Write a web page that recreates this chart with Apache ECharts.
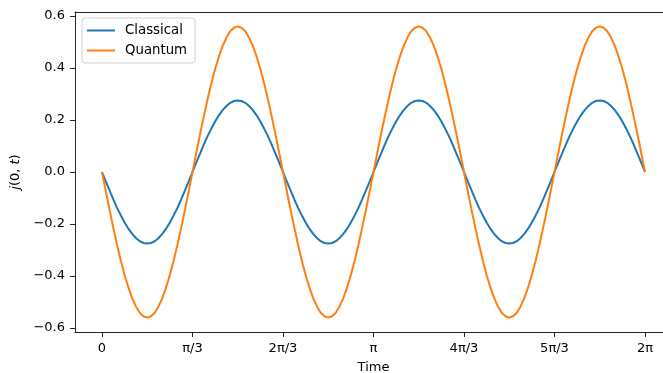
<!DOCTYPE html>
<html>
<head>
<meta charset="utf-8">
<script src="https://cdn.jsdelivr.net/npm/echarts@6/dist/echarts.min.js"></script>
<style>html,body{margin:0;padding:0;background:#fff}#c{width:663px;height:373px}</style>
</head>
<body>
<div id="c"></div>
<script>
// sample index k -> time t = k*pi/72
const stepCount = 144;
const classical = [
 0,-0.036,-0.071,-0.105,-0.138,-0.167,-0.194,-0.218,-0.238,-0.254,-0.266,-0.273,
 -0.275,-0.273,-0.266,-0.254,-0.238,-0.218,-0.194,-0.167,-0.138,-0.105,-0.071,-0.036,
 0,0.036,0.071,0.105,0.138,0.167,0.194,0.218,0.238,0.254,0.266,0.273,
 0.275,0.273,0.266,0.254,0.238,0.218,0.194,0.167,0.138,0.105,0.071,0.036,
 0,-0.036,-0.071,-0.105,-0.138,-0.167,-0.194,-0.218,-0.238,-0.254,-0.266,-0.273,
 -0.275,-0.273,-0.266,-0.254,-0.238,-0.218,-0.194,-0.167,-0.138,-0.105,-0.071,-0.036,
 0,0.036,0.071,0.105,0.138,0.167,0.194,0.218,0.238,0.254,0.266,0.273,
 0.275,0.273,0.266,0.254,0.238,0.218,0.194,0.167,0.138,0.105,0.071,0.036,
 0,-0.036,-0.071,-0.105,-0.138,-0.167,-0.194,-0.218,-0.238,-0.254,-0.266,-0.273,
 -0.275,-0.273,-0.266,-0.254,-0.238,-0.218,-0.194,-0.167,-0.138,-0.105,-0.071,-0.036,
 0,0.036,0.071,0.105,0.138,0.167,0.194,0.218,0.238,0.254,0.266,0.273,
 0.275,0.273,0.266,0.254,0.238,0.218,0.194,0.167,0.138,0.105,0.071,0.036,
 0
];
const quantum = [
 0,-0.073,-0.145,-0.214,-0.28,-0.341,-0.396,-0.444,-0.485,-0.517,-0.541,-0.555,
 -0.56,-0.555,-0.541,-0.517,-0.485,-0.444,-0.396,-0.341,-0.28,-0.214,-0.145,-0.073,
 0,0.073,0.145,0.214,0.28,0.341,0.396,0.444,0.485,0.517,0.541,0.555,
 0.56,0.555,0.541,0.517,0.485,0.444,0.396,0.341,0.28,0.214,0.145,0.073,
 0,-0.073,-0.145,-0.214,-0.28,-0.341,-0.396,-0.444,-0.485,-0.517,-0.541,-0.555,
 -0.56,-0.555,-0.541,-0.517,-0.485,-0.444,-0.396,-0.341,-0.28,-0.214,-0.145,-0.073,
 0,0.073,0.145,0.214,0.28,0.341,0.396,0.444,0.485,0.517,0.541,0.555,
 0.56,0.555,0.541,0.517,0.485,0.444,0.396,0.341,0.28,0.214,0.145,0.073,
 0,-0.073,-0.145,-0.214,-0.28,-0.341,-0.396,-0.444,-0.485,-0.517,-0.541,-0.555,
 -0.56,-0.555,-0.541,-0.517,-0.485,-0.444,-0.396,-0.341,-0.28,-0.214,-0.145,-0.073,
 0,0.073,0.145,0.214,0.28,0.341,0.396,0.444,0.485,0.517,0.541,0.555,
 0.56,0.555,0.541,0.517,0.485,0.444,0.396,0.341,0.28,0.214,0.145,0.073,
 0
];
const xTickLabels = ['0','π/3','2π/3','π','4π/3','5π/3','2π'];
const xTickValues = xTickLabels.map((_, i) => i * Math.PI / 3);
const yTickValues = [-0.6,-0.4,-0.2,0,0.2,0.4,0.6];

const times = [];
for (let k = 0; k <= stepCount; k++) times.push(k * Math.PI / 72);
const toPairs = arr => arr.map((v, i) => [times[i], v]);

const font = 'DejaVu Sans';
const axisCol = '#262626';
const xMin = -0.3124, xMax = 6.4915;
const chart = echarts.init(document.getElementById('c'), null, {renderer:'canvas'});
chart.setOption({
  animation: false,
  backgroundColor: '#fff',
  textStyle: {fontFamily: font},
  grid: {left: 75, right: 0, top: 12, bottom: 41, containLabel: false, outerBoundsMode: 'none'},
  legend: {
    orient: 'vertical', left: 82, top: 18,
    padding: [6, 8, 6, 5], itemGap: 7,
    itemWidth: 28, itemHeight: 2,
    borderColor: '#d0d0d0', borderWidth: 1, borderRadius: 3,
    backgroundColor: 'rgba(255,255,255,0.8)',
    textStyle: {fontFamily: font, fontSize: 13.3, color: '#000', padding: [0,0,0,5]},
    data: [{name: 'Classical', icon: 'rect'}, {name: 'Quantum', icon: 'rect'}]
  },
  xAxis: [{
    type: 'value', min: xMin, max: xMax,
    name: 'Time', nameLocation: 'middle', nameGap: 29,
    nameTextStyle: {fontFamily: font, fontSize: 13, color: '#000', padding: [0, 0, 0, 9]},
    axisLine: {show: true, onZero: false, lineStyle: {color: axisCol, width: 1}},
    axisTick: {show: true, length: 5, inside: false, customValues: xTickValues, lineStyle: {color: axisCol}},
    axisLabel: {show: true, customValues: xTickValues, margin: 10, fontSize: 13, color: '#000', fontFamily: font,
      formatter: v => { const i = Math.round(v / (Math.PI / 3)); return xTickLabels[i] || ''; }},
    splitLine: {show: false}
  }, {
    type: 'value', position: 'top', min: xMin, max: xMax,
    axisLine: {show: true, onZero: false, lineStyle: {color: axisCol, width: 1}},
    axisTick: {show: false}, axisLabel: {show: false}, splitLine: {show: false}
  }],
  yAxis: {
    type: 'value', min: -0.6154, max: 0.6154,
    name: '{i|j}(0, {i|t})', nameLocation: 'middle', nameGap: 41, nameRotate: 90,
    nameTextStyle: {fontFamily: font, fontSize: 13, color: '#000',
      rich: {i: {fontStyle: 'italic', fontFamily: font, fontSize: 13, color: '#000'}}},
    axisLine: {show: true, onZero: false, lineStyle: {color: axisCol, width: 1}},
    axisTick: {show: true, length: 5, customValues: yTickValues, lineStyle: {color: axisCol}},
    axisLabel: {show: true, customValues: yTickValues, margin: 10, fontSize: 13, color: '#000', fontFamily: font,
      formatter: v => v.toFixed(1).replace('-', '\u2212')},
    splitLine: {show: false}
  },
  series: [
    {name: 'Classical', type: 'line', data: toPairs(classical), smooth: false, showSymbol: false,
     color: '#1f77b4', lineStyle: {color: '#1f77b4', width: 2}},
    {name: 'Quantum', type: 'line', data: toPairs(quantum), smooth: false, showSymbol: false,
     color: '#ff7f0e', lineStyle: {color: '#ff7f0e', width: 2}}
  ]
});
</script>
</body>
</html>
